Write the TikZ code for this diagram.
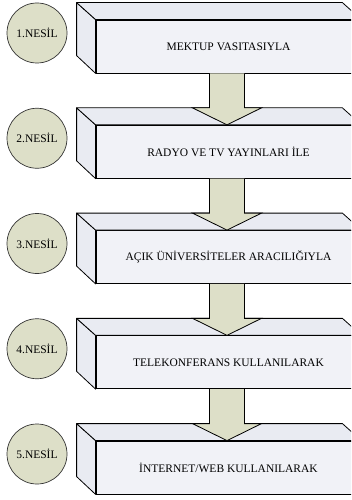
\documentclass[tikz,border=0pt]{standalone}
\usepackage{fontspec}
\setmainfont{Liberation Serif}
\usetikzlibrary{calc}
\definecolor{facefill}{HTML}{F1F2F7}
\definecolor{sidefill}{HTML}{E9EBF2}
\definecolor{olivefill}{HTML}{DDDFC8}

\begin{document}
\begin{tikzpicture}[
	x=1pt, y=-1pt,
	font=\fontsize{11.5}{13}\selectfont,
	front/.style={draw, line width=0.8pt, fill=facefill, minimum width=265pt, minimum height=53pt, inner sep=0pt},
	side/.style={draw, line width=0.8pt, fill=sidefill, line join=round},
	gen/.style={circle, draw=black!80, line width=0.7pt, fill=olivefill, minimum size=60pt, inner sep=0pt},
	blockarrow/.style={draw, line width=0.8pt, fill=olivefill, line join=miter}]
	%\draw [help lines] (0,0) grid (351,500);
	\useasboundingbox (0,0) rectangle (351,500);
	\clip (0,0) rectangle (351,500);
	\foreach \i/\txt in {1/MEKTUP VASITASIYLA, 2/RADYO VE TV YAYINLARI İLE,
		3/AÇIK ÜNİVERSİTELER ARACILIĞIYLA, 4/TELEKONFERANS KULLANILARAK,
		5/{İNTERNET/WEB KULLANILARAK}} {
		\pgfmathsetmacro{\top}{3+105.25*(\i-1)}
		\node[front] (box\i) at (228.5,\top+43.5) {\txt};
		\draw[side] (box\i.north west) -- ++(-19,-17) -- ++(0,53) -- (box\i.south west) -- cycle;
		\draw[side] (box\i.north west) -- ++(-19,-17) -- ($(box\i.north east)+(-19,-17)$) -- (box\i.north east) -- cycle;
		\node[gen] (gen\i) at (37,\top+30) {\i.NESİL};
	}
	% arrows between the levels
	\foreach \i [evaluate=\i as \j using int(\i+1)] in {1,...,4} {
		\draw[blockarrow] ($(box\i.south)+(-19,0)$) -- ($(box\j.north)+(-19,-17)$)
			-- ($(box\j.north)+(-36,-17)$) -- ($(box\j.north)+(-1.5,0)$)
			-- ($(box\j.north)+(33,-17)$) -- ($(box\j.north)+(16,-17)$)
			-- ($(box\i.south)+(16,0)$);
	}
\end{tikzpicture}
\end{document}
